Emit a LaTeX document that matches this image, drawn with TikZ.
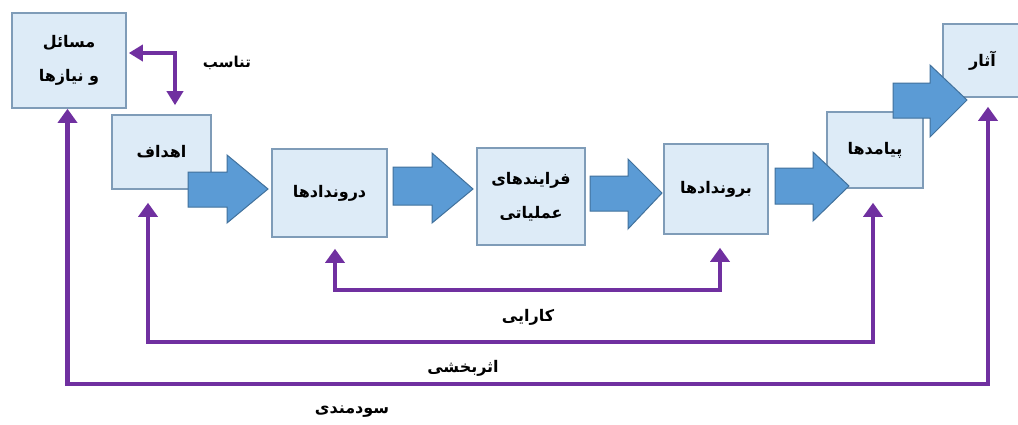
\documentclass[tikz,border=0pt]{standalone}
\usepackage{fontspec}
\TeXXeTstate=1
\newfontfamily\fa[Script=Arabic]{DejaVu Sans}
\usetikzlibrary{arrows.meta}
\definecolor{boxfill}{HTML}{DDEBF7}
\definecolor{boxline}{HTML}{7F9CB8}
\definecolor{arrfill}{HTML}{5B9BD5}
\definecolor{arrline}{HTML}{41719C}
\definecolor{fbcol}{HTML}{7030A0}
\begin{document}
\begin{tikzpicture}[x=1pt,y=-1pt,
 stagebox/.style={draw=boxline, fill=boxfill, line width=1.6pt, inner sep=0pt, align=center, font=\fa\bfseries\fontsize{16}{34}\selectfont},
 blockarr/.style={draw=arrline, fill=arrfill, line width=1pt, line join=miter},
 fb/.style={draw=fbcol, line width=4.5pt, {Triangle[width=19pt,length=14pt]}-{Triangle[width=19pt,length=14pt]}},
 fbsmall/.style={draw=fbcol, line width=4pt, {Triangle[width=16pt,length=14pt]}-{Triangle[width=16pt,length=14pt]}},
 fblabel/.style={font=\fa\bfseries\fontsize{16}{18}\selectfont, inner sep=0pt}
]
\useasboundingbox (0,0) rectangle (1018,424);
\fill[white] (0,0) rectangle (1018,424);

% boxes
\node[stagebox, minimum width=114pt, minimum height=95pt] (b1) at (69,60.5) {\beginR مسائل\endR\\\beginR و نیازها\endR};
\node[stagebox, minimum width=99pt, minimum height=74pt] (b2) at (161.5,152) {\beginR اهداف\endR};
\node[stagebox, minimum width=115pt, minimum height=88pt] (b3) at (329.5,193) {\beginR دروندادها\endR};
\node[stagebox, minimum width=108pt, minimum height=97pt] (b4) at (531,196.5) {\beginR فرایندهای\endR\\\beginR عملیاتی\endR};
\node[stagebox, minimum width=104pt, minimum height=90pt] (b5) at (716,189) {\beginR بروندادها\endR};
\node[stagebox, minimum width=96pt, minimum height=76pt] (b6) at (875,150) {\beginR پیامدها\endR};
\node[stagebox, minimum width=79pt, minimum height=73pt] (b7) at (982.5,60.5) {\beginR آثار\endR};

% block arrows
\draw[blockarr] (188,172) -- (227,172) -- (227,155) -- (268,189) -- (227,223) -- (227,207) -- (188,207) -- cycle;
\draw[blockarr] (393,167) -- (432,167) -- (432,153) -- (473,189) -- (432,223) -- (432,205) -- (393,205) -- cycle;
\draw[blockarr] (590,176) -- (628,176) -- (628,159) -- (662,193) -- (628,229) -- (628,211) -- (590,211) -- cycle;
\draw[blockarr] (775,168) -- (813,168) -- (813,152) -- (849,186) -- (813,221) -- (813,204) -- (775,204) -- cycle;
\draw[blockarr] (893,83) -- (930,83) -- (930,65) -- (967,100) -- (930,137) -- (930,118) -- (893,118) -- cycle;

% feedback connectors
\coordinate (q1) at ([yshift=7.5pt]b1.east);
\coordinate (q2) at ([xshift=13.5pt]b2.north);
\draw[fbsmall, shorten <=2pt, shorten >=9pt] (q1) -| (q2);

\coordinate (l1) at (0,290);
\coordinate (l2) at (0,342);
\coordinate (l3) at (0,384);
\coordinate (p3) at ([xshift=5.5pt]b3.south);
\coordinate (p5) at ([xshift=4pt]b5.south);
\coordinate (p2) at ([xshift=-13.5pt]b2.south);
\coordinate (p6) at ([xshift=-2pt]b6.south);
\coordinate (p1) at ([xshift=-1.5pt]b1.south);
\coordinate (p7) at ([xshift=5.5pt]b7.south);
\draw[fb, shorten <=11pt, shorten >=13pt] (p3) -- (p3 |- l1) -| (p5);
\draw[fb, shorten <=13pt, shorten >=14pt] (p2) -- (p2 |- l2) -| (p6);
\draw[fb, shorten <=0pt, shorten >=9pt] (p1) -- (p1 |- l3) -| (p7);

% labels
\node[fblabel, font=\fa\bfseries\fontsize{15}{18}\selectfont] (t0) at (227,63) {\beginR تناسب\endR};
\node[fblabel] (t1) at (528,317) {\beginR کارایی\endR};
\node[fblabel] (t2) at (463,368) {\beginR اثربخشی\endR};
\node[fblabel] (t3) at (352,412) {\beginR سودمندی\endR};
\end{tikzpicture}
\end{document}
